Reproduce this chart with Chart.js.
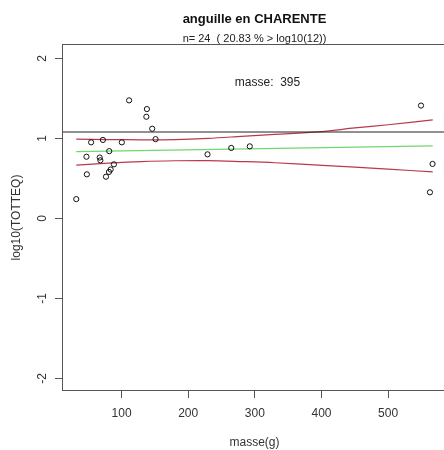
<!DOCTYPE html>
<html>
<head>
<meta charset="utf-8">
<script src="https://cdn.jsdelivr.net/npm/chart.js@4/dist/chart.umd.min.js"></script>
<style>
html,body{margin:0;padding:0;background:#fff;overflow:hidden;width:444px;height:450px;}
#wrap{position:absolute;left:0;top:0;width:452px;height:450px;}
</style>
</head>
<body>
<div id="wrap"><canvas id="c" width="452" height="450"></canvas></div>
<script>
// Observations
const masse = [32, 47.3, 47.9, 54.3, 67.2, 68.2, 72, 76.6, 81.1, 81.5, 83.6, 88.5, 100.4, 111.3, 137.2, 138, 146, 151, 229, 264.6, 292.4, 549.4, 562.8, 566.7];
const logTotteq = [0.24, 0.77, 0.55, 0.95, 0.76, 0.725, 0.98, 0.52, 0.58, 0.84, 0.61, 0.675, 0.95, 1.475, 1.27, 1.366, 1.12, 0.99, 0.80, 0.88, 0.90, 1.41, 0.325, 0.68];
// Fitted line
const fitX = [32, 567];
const fitY = [0.835, 0.905];
// Confidence band
const bandX = [32, 80, 130, 180, 230, 280, 330, 395, 450, 500, 567];
const bandUpper = [0.99, 0.985, 0.982, 0.985, 1.0, 1.025, 1.05, 1.08, 1.13, 1.17, 1.23];
const bandLower = [0.665, 0.69, 0.71, 0.72, 0.722, 0.71, 0.695, 0.665, 0.64, 0.615, 0.58];
// Threshold
const threshold = Math.log10(12);
const xTicks = [100, 200, 300, 400, 500];
const yTicks = [-2, -1, 0, 1, 2];
const titleText = "anguille en CHARENTE";
const subtitleText = "n= 24  ( 20.83 % > log10(12))";
const noteText = "masse:  395";
const noteX = 319, noteY = 1.70;

const pts = (xs, ys) => xs.map((x, i) => ({x: x, y: ys[i]}));
const FONT = "'Liberation Sans', Arial, sans-serif";

const decor = {
  id: 'decor',
  afterDraw(chart) {
    const ctx = chart.ctx, a = chart.chartArea;
    const xs = chart.scales.x, ys = chart.scales.y;
    ctx.save();
    // box
    ctx.strokeStyle = '#555';
    ctx.lineWidth = 1;
    ctx.strokeRect(a.left + 0.5, a.top + 0.5, a.right - a.left - 1, a.bottom - a.top - 1);
    // y ticks and rotated labels
    ctx.fillStyle = '#333';
    ctx.font = '12px ' + FONT;
    ctx.textAlign = 'center';
    ctx.textBaseline = 'middle';
    yTicks.forEach(v => {
      const py = Math.round(ys.getPixelForValue(v)) + 0.5;
      ctx.beginPath();
      ctx.moveTo(a.left - 7, py);
      ctx.lineTo(a.left, py);
      ctx.stroke();
      ctx.save();
      ctx.translate(43, py);
      ctx.rotate(-Math.PI / 2);
      ctx.fillText(String(v), 0, 0);
      ctx.restore();
    });
    // title
    const cx = (a.left + a.right) / 2;
    ctx.fillStyle = '#111';
    ctx.font = 'bold 13px ' + FONT;
    ctx.fillText(titleText, cx, 19);
    ctx.font = '11px ' + FONT;
    ctx.fillStyle = '#222';
    ctx.fillText(subtitleText, cx, 39);
    // note
    ctx.font = '12px ' + FONT;
    ctx.fillText(noteText, xs.getPixelForValue(noteX), ys.getPixelForValue(noteY));
    ctx.restore();
  }
};

new Chart(document.getElementById('c'), {
  type: 'scatter',
  data: {
    datasets: [
      {data: pts(masse, logTotteq), showLine: false, pointStyle: 'circle', pointRadius: 2.6, borderColor: '#111', borderWidth: 1, backgroundColor: 'rgba(0,0,0,0)', order: 0},
      {data: pts(fitX, fitY), showLine: true, pointRadius: 0, borderColor: '#6fd86f', borderWidth: 1.2, order: 2},
      {data: pts(bandX, bandUpper), showLine: true, pointRadius: 0, borderColor: '#b83a4a', borderWidth: 1.2, tension: 0.3, order: 2},
      {data: pts(bandX, bandLower), showLine: true, pointRadius: 0, borderColor: '#b83a4a', borderWidth: 1.2, tension: 0.3, order: 2},
      {data: pts([10.6, 588.4], [threshold, threshold]), showLine: true, pointRadius: 0, borderColor: '#222', borderWidth: 1, order: 1}
    ]
  },
  options: {
    responsive: false,
    animation: false,
    events: [],
    layout: {padding: {left: 0, top: 44, right: 2, bottom: 0}},
    plugins: {legend: {display: false}, tooltip: {enabled: false}},
    scales: {
      x: {
        type: 'linear', min: 10.6, max: 588.4,
        afterBuildTicks: s => { s.ticks = xTicks.map(v => ({value: v})); },
        afterFit: s => { s.height = 59; },
        grid: {display: true, drawOnChartArea: false, drawTicks: true, tickLength: 7, color: '#555'},
        border: {display: false},
        ticks: {color: '#333', font: {size: 12, family: FONT}, padding: 8, maxRotation: 0, minRotation: 0},
        title: {display: true, text: 'masse(g)', color: '#333', font: {size: 12, family: FONT}, padding: {top: 6, bottom: 0}}
      },
      y: {
        type: 'linear', min: -2.16, max: 2.18,
        afterBuildTicks: s => { s.ticks = yTicks.map(v => ({value: v})); },
        afterFit: s => { s.width = 62; },
        grid: {display: false},
        border: {display: false},
        ticks: {display: false},
        title: {display: true, text: 'log10(TOTTEQ)', color: '#333', font: {size: 12, family: FONT}, padding: {top: 9, bottom: 0}}
      }
    }
  },
  plugins: [decor]
});
</script>
</body>
</html>
